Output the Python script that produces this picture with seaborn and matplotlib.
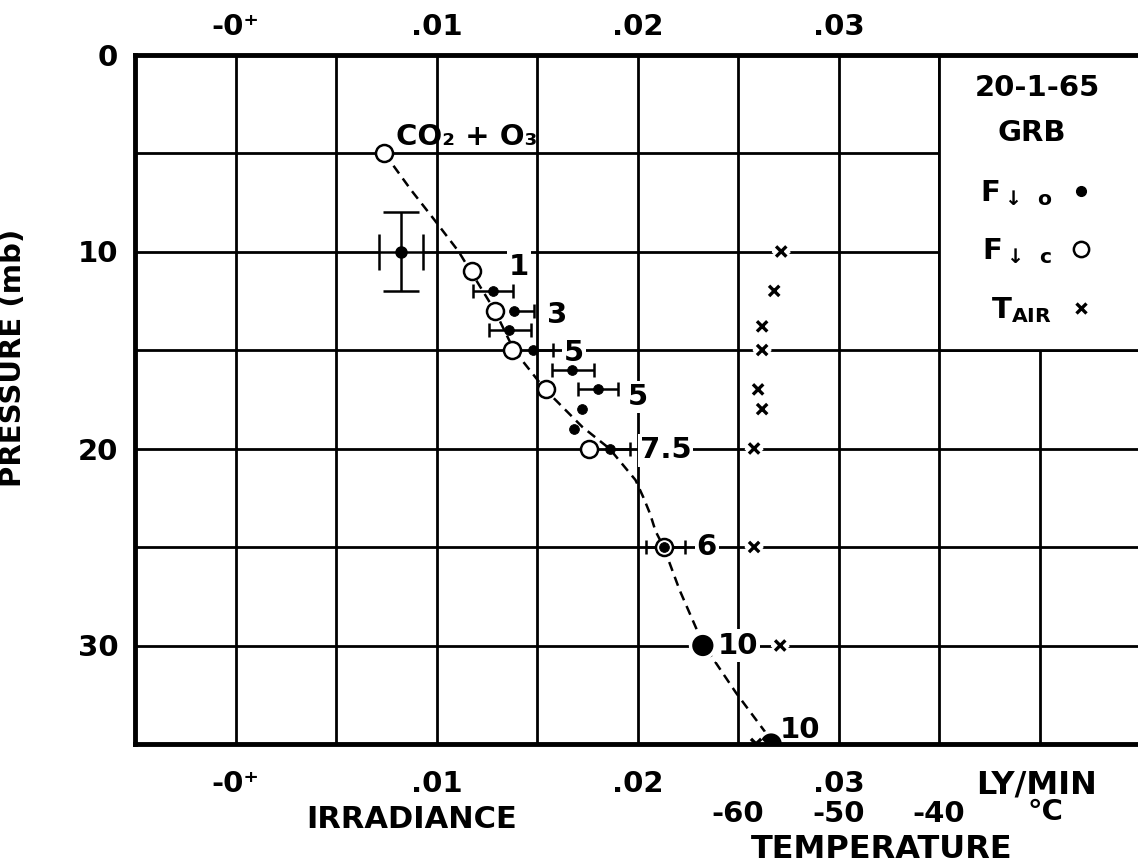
import numpy as np
import matplotlib
matplotlib.use("Agg")
import matplotlib.pyplot as plt
import matplotlib.patheffects as pe
from matplotlib.lines import Line2D
from matplotlib.patches import Rectangle
import seaborn as sns

# ---------------- data ----------------
# dashed curve (CO2 + O3 computation), irradiance (ly/min) vs pressure (mb)
curve_irr = [0.0074, 0.00875, 0.0099, 0.0111, 0.0129, 0.01385, 0.0154, 0.01725,
             0.0186, 0.0199, 0.0203, 0.02062, 0.0209, 0.0213, 0.0221, 0.02325, 0.0249, 0.02665]
curve_p = [5.0, 6.9, 8.4, 10.0, 13.0, 15.0, 17.0, 18.9,
           20.0, 21.6, 22.5, 23.3, 24.2, 25.0, 27.2, 29.9, 32.4, 34.8]

# F down c (open circles)
open_irr = [0.0074, 0.01175, 0.0129, 0.01375, 0.01545, 0.0176, 0.0213]
open_p = [5, 11, 13, 15, 17, 20, 25]

# F down o (filled dots) with horizontal error bars (0 = no bar on that side)
dot_irr = [0.0128, 0.01385, 0.0136, 0.0148, 0.01675, 0.01805, 0.01725, 0.01685, 0.01865, 0.0213]
dot_p = [12, 13, 14, 15, 16, 17, 18, 19, 20, 25]
dot_err_lo = [0.001, 0.0, 0.001, 0.0, 0.001, 0.001, 0.0, 0.0, 0.0, 0.0009]
dot_err_hi = [0.001, 0.001, 0.0011, 0.001, 0.0011, 0.001, 0.0, 0.0, 0.001, 0.00105]

# large filled dots
big_irr = [0.02325, 0.02665]
big_p = [30, 35]

# mean value cross
mean_irr = [0.00825]
mean_p = [10]
mean_xerr = [0.0011]
mean_yerr = [2.0]

# air temperature (deg C)
temp_c = [-55.7, -56.4, -57.6, -57.6, -58.0, -57.6, -58.4, -58.4, -55.8, -58.2]
temp_p = [10, 12, 13.8, 15, 17, 18, 20, 25, 30, 35]

# number annotations
num_text = ["1", "3", "5", "5", "7.5", "6", "10", "10"]
num_irr = [0.0141, 0.0160, 0.01685, 0.0200, 0.0214, 0.02345, 0.0250, 0.0281]
num_p = [10.8, 13.2, 15.15, 17.4, 20.1, 25.0, 30.0, 34.3]

irr_ticks = [0.0, 0.01, 0.02, 0.03]
irr_labels = ["-0\u207a", ".01", ".02", ".03"]
p_ticks = [0, 10, 20, 30]
temp_ticks = [-60, -50, -40]

# ---------------- style ----------------
sns.set_theme(style="white")
plt.rcParams["font.family"] = ["DejaVu Sans"]
plt.rcParams["font.weight"] = "bold"
plt.rcParams["mathtext.fontset"] = "dejavusans"
plt.rcParams["mathtext.default"] = "bf"
for k in ["text.color", "axes.labelcolor", "xtick.color", "ytick.color"]:
    plt.rcParams[k] = "black"

FS = 21
W, H = 1138, 868
fig = plt.figure(figsize=(W / 100, H / 100), dpi=100)
fig.patch.set_facecolor("white")
ax_left, ax_top, ax_bot = 135, 54.5, 744
ax = fig.add_axes([ax_left / W, 1 - ax_bot / H, 1 - ax_left / W, (ax_bot - ax_top) / H])
ax.set_facecolor("white")

XMAX = 0.0449
ax.set_xlim(-0.005, XMAX)
ax.set_ylim(35, 0)

# grid
ax.set_xticks(irr_ticks)
ax.set_xticklabels(irr_labels)
ax.set_xticks([0.005, 0.015, 0.025, 0.035, 0.04], minor=True)
ax.set_yticks(p_ticks)
ax.set_yticks([5, 15, 25], minor=True)
ax.set_axisbelow(True)
ax.grid(True, which="both", color="black", linewidth=2.0)
ax.tick_params(axis="both", which="both", length=0, labelsize=FS, colors="black")
ax.tick_params(axis="x", pad=19)
ax.tick_params(axis="y", pad=12)
for s in ax.spines.values():
    s.set_visible(False)

# legend box (white panel in the upper right)
ax.add_patch(Rectangle((0.035, 0), XMAX - 0.035 + 0.001, 15, facecolor="white",
                       edgecolor="black", linewidth=2.0, zorder=1))
ax.text(0.0399, 1.7, "20-1-65", fontsize=FS, fontweight="bold", ha="center", va="center", zorder=6)
ax.text(0.0396, 3.98, "GRB", fontsize=FS, fontweight="bold", ha="center", va="center", zorder=6)

# dashed curve
sns.lineplot(x=curve_irr, y=curve_p, sort=False, estimator=None, ax=ax, color="black",
             linewidth=1.8, linestyle=(0, (3.8, 2.5)), zorder=2)

# error bars for F down o: bar segments, then caps only on the sides that have an error
dx = np.array(dot_irr)
dp = np.array(dot_p)
lo = np.array(dot_err_lo)
hi = np.array(dot_err_hi)
ax.errorbar(dx, dp, xerr=[lo, hi], fmt="none", ecolor="black", elinewidth=1.8, capsize=0, zorder=3)
ax.plot((dx - lo)[lo > 0], dp[lo > 0], ls="none", marker="|", ms=10, mew=1.8, color="black", zorder=3)
ax.plot((dx + hi)[hi > 0], dp[hi > 0], ls="none", marker="|", ms=10, mew=1.8, color="black", zorder=3)

# open circles
sns.scatterplot(x=open_irr, y=open_p, ax=ax, s=150, facecolor="white", edgecolor="black",
                linewidth=1.8, zorder=4)
# filled dots
sns.scatterplot(x=dot_irr, y=dot_p, ax=ax, s=50, color="black", edgecolor="black", zorder=5)
sns.scatterplot(x=big_irr, y=big_p, ax=ax, s=200, color="black", edgecolor="black", zorder=5,
                path_effects=[pe.withStroke(linewidth=6, foreground="white")])

# mean cross
eb = ax.errorbar(mean_irr, mean_p, xerr=mean_xerr, yerr=mean_yerr, fmt="o", ms=8, color="black",
                 elinewidth=1.8, capsize=13, capthick=1.8, zorder=5)
for coll in eb.lines[2]:
    coll.set_path_effects([pe.withStroke(linewidth=7, foreground="white")])

# CO2 + O3 label
ax.text(0.0080, 4.2, "CO\u2082 + O\u2083", fontsize=FS, fontweight="bold", ha="left",
        va="center", zorder=3)

# number annotations
for t, xv, yv in zip(num_text, num_irr, num_p):
    ax.text(xv, yv, t, fontsize=FS, fontweight="bold", ha="center", va="center", zorder=3,
            bbox=dict(facecolor="white", edgecolor="none", pad=1.5))

# top tick labels
secax = ax.secondary_xaxis("top")
secax.set_xticks(irr_ticks)
secax.set_xticklabels(irr_labels)
secax.tick_params(length=0, labelsize=FS, pad=10, colors="black")
secax.spines["top"].set_visible(False)

# temperature axis
def irr_to_t(v):
    return (v - 0.025) * 2000 - 60

ax2 = ax.twiny()
x0, x1 = ax.get_xlim()
ax2.set_xlim(irr_to_t(x0), irr_to_t(x1))
ax2.xaxis.tick_bottom()
ax2.set_xticks(temp_ticks)
ax2.set_xticklabels([str(v) for v in temp_ticks])
ax2.tick_params(axis="x", length=0, labelsize=FS, pad=40, colors="black")
sns.scatterplot(x=temp_c, y=temp_p, ax=ax2, marker="x", s=55, color="black", linewidth=2.4,
                zorder=2, path_effects=[pe.withStroke(linewidth=9, foreground="white")])
ax2.grid(False)
for name, s in ax2.spines.items():
    if name == "right":
        s.set_visible(False)
    else:
        s.set_visible(True)
        s.set_color("black")
        s.set_linewidth(3.5)
        s.set_zorder(10)

# axis labels
ax.set_ylabel("PRESSURE (mb)", fontsize=FS, fontweight="bold", color="black")
ax.yaxis.set_label_coords(-0.108, 0.56)
fig.text(412 / W, 1 - 820 / H, "IRRADIANCE", fontsize=22, fontweight="bold", ha="center", va="center")
fig.text(1037 / W, 1 - 785 / H, "LY/MIN", fontsize=23, fontweight="bold", ha="center", va="center")
fig.text(1045 / W, 1 - 812 / H, "\u00b0C", fontsize=FS, fontweight="bold", ha="center", va="center")
fig.text(882 / W, 1 - 850 / H, "TEMPERATURE", fontsize=23, fontweight="bold", ha="center", va="center")

# legend
handles = [Line2D([], [], ls="none", marker="o", ms=7, color="black"),
           Line2D([], [], ls="none", marker="o", ms=11, mfc="white", mec="black", mew=1.8),
           Line2D([], [], ls="none", marker="x", ms=7, mew=2.4, color="black")]
labels = [r"$\mathbf{F}_{\downarrow\;\;\mathbf{o}}$", r"$\mathbf{F}_{\downarrow\;\;\mathbf{c}}$",
          r"$\mathbf{T}_{\mathbf{AIR}}$"]
leg = ax.legend(handles, labels, loc="upper left", bbox_to_anchor=(0.842, 0.82), frameon=False,
                markerfirst=False, fontsize=FS, borderpad=0, borderaxespad=0,
                handlelength=1.0, handletextpad=0.5, labelspacing=1.0)
leg.set_zorder(6)

fig.savefig("out.png", dpi=100, facecolor="white")
